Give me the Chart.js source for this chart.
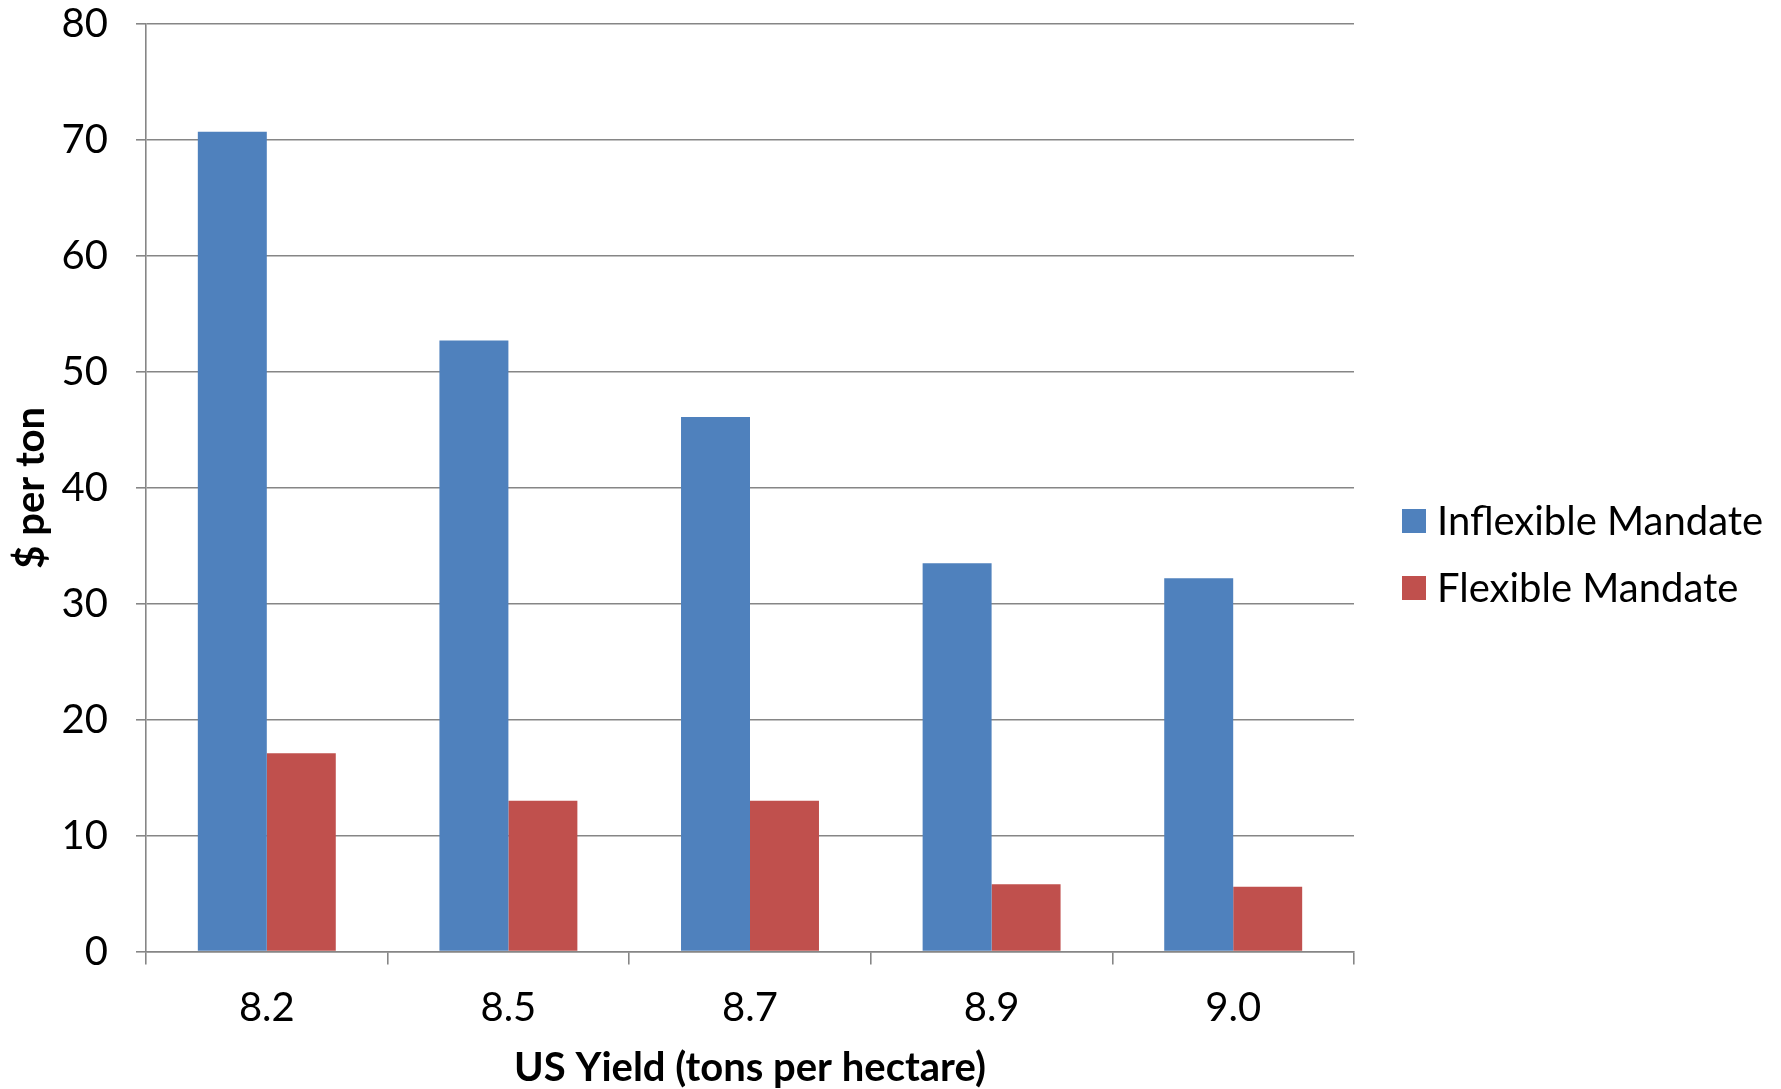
<!DOCTYPE html>
<html>
<head>
<meta charset="utf-8">
<script src="https://cdn.jsdelivr.net/npm/chart.js@4"></script>
<style>
  html, body { margin: 0; padding: 0; background: #fff; }
  #wrap { width: 1781px; height: 1089px; }
</style>
</head>
<body>
<div id="wrap"><canvas id="chart" width="1781" height="1089"></canvas></div>
<script>
// US yield scenarios (tons per hectare)
const yieldLabels = ['8.2', '8.5', '8.7', '8.9', '9.0'];
// Cost in $ per ton under each mandate type
const inflexibleMandate = [70.7, 52.7, 46.1, 33.5, 32.2];
const flexibleMandate = [17.1, 13.0, 13.0, 5.8, 5.6];
const seriesNames = ['Inflexible Mandate', 'Flexible Mandate'];
const yTicks = [0, 10, 20, 30, 40, 50, 60, 70, 80];

const FONT = 'Lato, "Open Sans", sans-serif';
const GRID = '#868686';

// Legend drawn to the right of the plot, vertically stacked
const sideLegend = {
  id: 'sideLegend',
  afterDraw(chart) {
    const ctx = chart.ctx;
    const x0 = chart.chartArea.right + 48;
    const rows = [521, 588];
    ctx.save();
    ctx.font = '40px ' + FONT;
    ctx.textBaseline = 'middle';
    ctx.textAlign = 'left';
    chart.data.datasets.forEach((ds, i) => {
      const cy = rows[i];
      ctx.fillStyle = ds.backgroundColor;
      ctx.fillRect(x0, cy - 12, 24, 24);
      ctx.fillStyle = '#000';
      ctx.fillText(ds.label, x0 + 35, cy + 1);
    });
    ctx.restore();
  }
};

new Chart(document.getElementById('chart'), {
  type: 'bar',
  data: {
    labels: yieldLabels,
    datasets: [
      { label: seriesNames[0], data: inflexibleMandate, backgroundColor: '#4F81BD' },
      { label: seriesNames[1], data: flexibleMandate, backgroundColor: '#C0504D' }
    ]
  },
  options: {
    responsive: false,
    animation: false,
    devicePixelRatio: 1,
    layout: { padding: { top: 24, right: 427, bottom: 0, left: 0 } },
    datasets: { bar: { categoryPercentage: 0.571, barPercentage: 1.0 } },
    plugins: { legend: { display: false }, tooltip: { enabled: false } },
    scales: {
      x: {
        afterFit(scale) { scale.height = 137.4; },
        grid: { offset: true, drawOnChartArea: false, drawTicks: true, tickLength: 13, color: GRID, lineWidth: 1.6 },
        border: { color: GRID, width: 1.6 },
        ticks: { color: '#000', padding: 19, font: { family: FONT, size: 40 } },
        title: {
          display: true, text: 'US Yield (tons per hectare)', color: '#000',
          font: { family: FONT, size: 40, weight: 'bold', lineHeight: 1 }, padding: { top: 0, bottom: 0.5 }
        }
      },
      y: {
        min: 0, max: 80,
        afterFit(scale) {
          scale.width = 146;
          scale.paddingTop = 0;
          scale.paddingBottom = 0;
        },
        afterBuildTicks(scale) { scale.ticks = yTicks.map(v => ({ value: v })); },
        grid: { color: GRID, lineWidth: 1.6, tickLength: 10 },
        border: { color: GRID, width: 1.6 },
        ticks: { color: '#000', padding: 28, font: { family: FONT, size: 40 } },
        title: {
          display: true, text: '$ per ton', color: '#000',
          font: { family: FONT, size: 40, weight: 'bold', lineHeight: 1 }, padding: { top: 11, bottom: 0 }
        }
      }
    }
  },
  plugins: [sideLegend]
});
</script>
</body>
</html>
